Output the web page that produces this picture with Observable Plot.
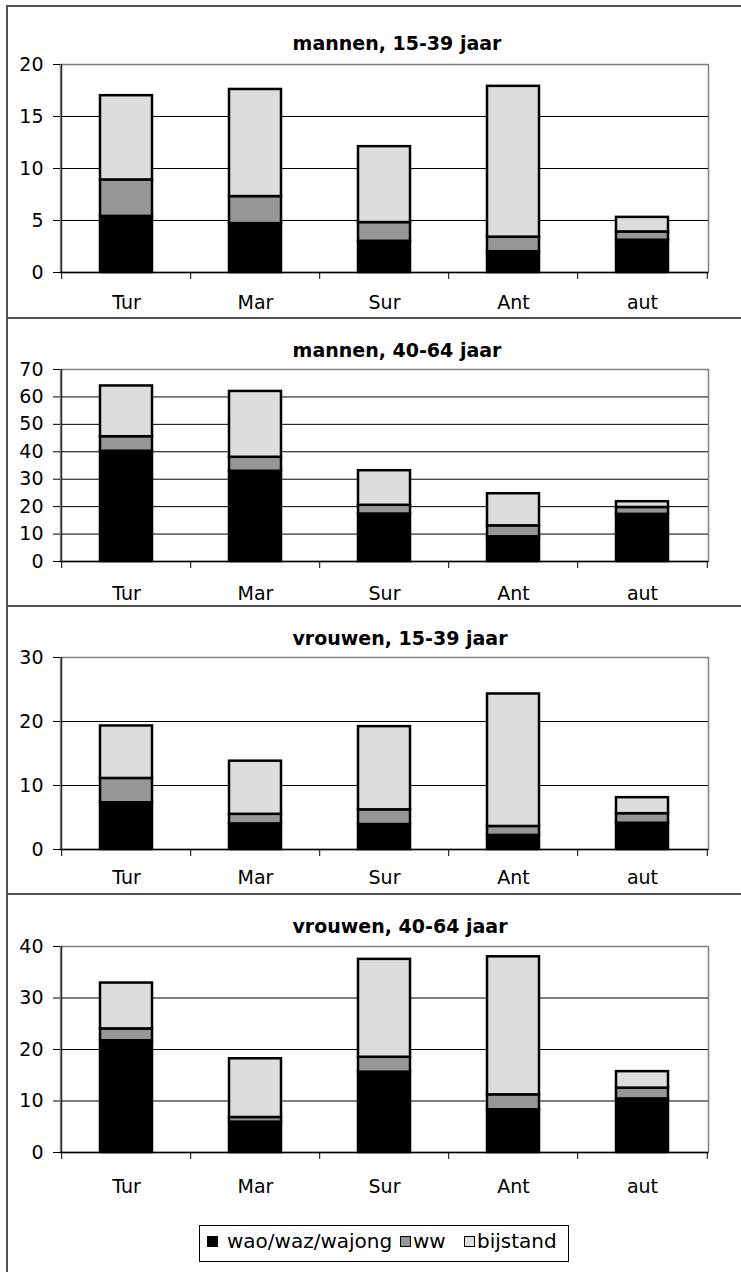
<!DOCTYPE html>
<html>
<head>
<meta charset="utf-8">
<script src="https://cdn.jsdelivr.net/npm/d3@7"></script>
<script src="https://cdn.jsdelivr.net/npm/@observablehq/plot@0.6"></script>
<style>
  body { margin: 0; background: #fff; font-family: "DejaVu Sans", Verdana, sans-serif; }
  #wrap { position: relative; width: 741px; height: 1272px; overflow: hidden; background: #fff; }
  .line { position: absolute; background: #505050; }
  .title { position: absolute; font-weight: bold; font-size: 19px; line-height: 19px; white-space: nowrap; transform: translateX(-50%); color: #000; }
  .panel { position: absolute; left: 0; }
  #legend { position: absolute; left: 199px; top: 1225px; width: 368px; height: 35px; border: 1px solid #000; box-sizing: content-box; }
  .sw { position: absolute; width: 9px; height: 9px; border: 1px solid #000; }
  .lt { position: absolute; font-size: 20px; line-height: 20px; white-space: nowrap; color: #000; }
</style>
</head>
<body>
<div id="wrap"></div>
<script>
// ---- data ----
const categories = ["Tur", "Mar", "Sur", "Ant", "aut"];
const seriesNames = ["wao/waz/wajong", "ww", "bijstand"];
const seriesColors = ["#000000", "#969696", "#dddddd"];
const panelTitles = ["mannen, 15-39 jaar", "mannen, 40-64 jaar", "vrouwen, 15-39 jaar", "vrouwen, 40-64 jaar"];

const yTicksM1539 = [0, 5, 10, 15, 20];
const yTicksM4064 = [0, 10, 20, 30, 40, 50, 60, 70];
const yTicksV1539 = [0, 10, 20, 30];
const yTicksV4064 = [0, 10, 20, 30, 40];

// mannen 15-39
const m1539Wao = [5.4, 4.7, 3.0, 2.0, 3.1];
const m1539Ww = [3.5, 2.6, 1.8, 1.4, 0.8];
const m1539Bijstand = [8.1, 10.3, 7.3, 14.5, 1.4];
// mannen 40-64
const m4064Wao = [40.2, 32.9, 17.3, 9.0, 17.2];
const m4064Ww = [5.3, 5.1, 3.2, 4.0, 2.5];
const m4064Bijstand = [18.5, 24.0, 12.6, 11.7, 2.1];
// vrouwen 15-39
const v1539Wao = [7.3, 4.0, 3.9, 2.2, 4.1];
const v1539Ww = [3.8, 1.5, 2.3, 1.4, 1.5];
const v1539Bijstand = [8.2, 8.3, 13.0, 20.7, 2.5];
// vrouwen 40-64
const v4064Wao = [21.7, 5.9, 15.6, 8.3, 10.4];
const v4064Ww = [2.3, 0.9, 2.9, 2.9, 2.1];
const v4064Bijstand = [8.9, 11.4, 19.0, 26.8, 3.2];

const panelValues = [
  [m1539Wao, m1539Ww, m1539Bijstand],
  [m4064Wao, m4064Ww, m4064Bijstand],
  [v1539Wao, v1539Ww, v1539Bijstand],
  [v4064Wao, v4064Ww, v4064Bijstand]
];
const panelTicks = [yTicksM1539, yTicksM4064, yTicksV1539, yTicksV4064];

// ---- layout ----
const geom = [
  { top: 6,   height: 312, mt: 58, mb: 46, pad: 23, titleX: 397, titleTop: 34 },
  { top: 319, height: 287, mt: 50, mb: 45, pad: 25, titleX: 397, titleTop: 341 },
  { top: 607, height: 287, mt: 50, mb: 45, pad: 21, titleX: 400, titleTop: 629 },
  { top: 895, height: 315, mt: 51, mb: 58, pad: 27, titleX: 400, titleTop: 917 }
];

const wrap = document.getElementById("wrap");
function addLine(l, t, w, h) {
  const d = document.createElement("div");
  d.className = "line";
  Object.assign(d.style, { left: l + "px", top: t + "px", width: w + "px", height: h + "px" });
  wrap.appendChild(d);
}

const W = 741, ML = 60, MR = 33;
const step = (W - ML - MR) / categories.length;

panelValues.forEach((vals, i) => {
  const g = geom[i];
  const data = [];
  seriesNames.forEach((s, k) => categories.forEach((c, j) => data.push({ cat: c, series: s, value: vals[k][j] })));
  const ticks = panelTicks[i];
  const ymax = ticks[ticks.length - 1];
  const chart = Plot.plot({
    width: W, height: g.height,
    marginLeft: ML, marginRight: MR, marginTop: g.mt, marginBottom: g.mb,
    style: { fontFamily: "'DejaVu Sans', Verdana, sans-serif", fontSize: "19px", color: "#000", background: "transparent", overflow: "visible" },
    x: { domain: categories, paddingInner: 0.6, paddingOuter: 0.3, axis: null, label: null },
    y: { domain: [0, ymax], axis: null, label: null },
    color: { domain: seriesNames, range: seriesColors },
    marks: [
      Plot.gridY(ticks, { stroke: "#000", strokeOpacity: 1 }),
      Plot.frame({ stroke: "#808080", strokeWidth: 1.5 }),
      Plot.barY(data, { x: "cat", y: "value", fill: "series", z: "series", stroke: "#000", strokeWidth: 2.5 }),
      Plot.axisY(ticks, { tickSize: 7, tickPadding: 10, tickFormat: d => String(d), fontSize: 19, label: null }),
      Plot.ruleX([categories[0]], { dx: -step / 2, stroke: "#000" }),
      Plot.ruleY([0], { stroke: "#000", strokeWidth: 1.5 }),
      Plot.ruleX(categories, { y1: 0, y2: 0, insetBottom: -7, dx: -step / 2, stroke: "#000" }),
      Plot.ruleX([categories[categories.length - 1]], { y1: 0, y2: 0, insetBottom: -7, dx: step / 2, stroke: "#000" }),
      Plot.axisX({ tickSize: 0, tickPadding: g.pad, fontSize: 19, label: null })
    ]
  });
  const holder = document.createElement("div");
  holder.className = "panel";
  holder.style.top = g.top + "px";
  holder.appendChild(chart);
  wrap.appendChild(holder);

  const t = document.createElement("div");
  t.className = "title";
  t.textContent = panelTitles[i];
  t.style.left = g.titleX + "px";
  t.style.top = g.titleTop + "px";
  wrap.appendChild(t);
});

// frame lines
addLine(7, 5, 734, 2);    // top
addLine(6, 5, 2, 1267);   // left
addLine(7, 317, 734, 2);  // separators
addLine(7, 605, 734, 2);
addLine(7, 893, 734, 2);

// legend
const legend = document.createElement("div");
legend.id = "legend";
wrap.appendChild(legend);
const swLeft = [7, 200, 264];
const txLeft = [27, 213, 277];
seriesNames.forEach((s, k) => {
  const sw = document.createElement("div");
  sw.className = "sw";
  sw.style.left = swLeft[k] + "px";
  sw.style.top = "10px";
  sw.style.background = seriesColors[k];
  legend.appendChild(sw);
  const tx = document.createElement("div");
  tx.className = "lt";
  tx.textContent = s;
  tx.style.left = txLeft[k] + "px";
  tx.style.top = "5px";
  legend.appendChild(tx);
});
</script>
</body>
</html>
